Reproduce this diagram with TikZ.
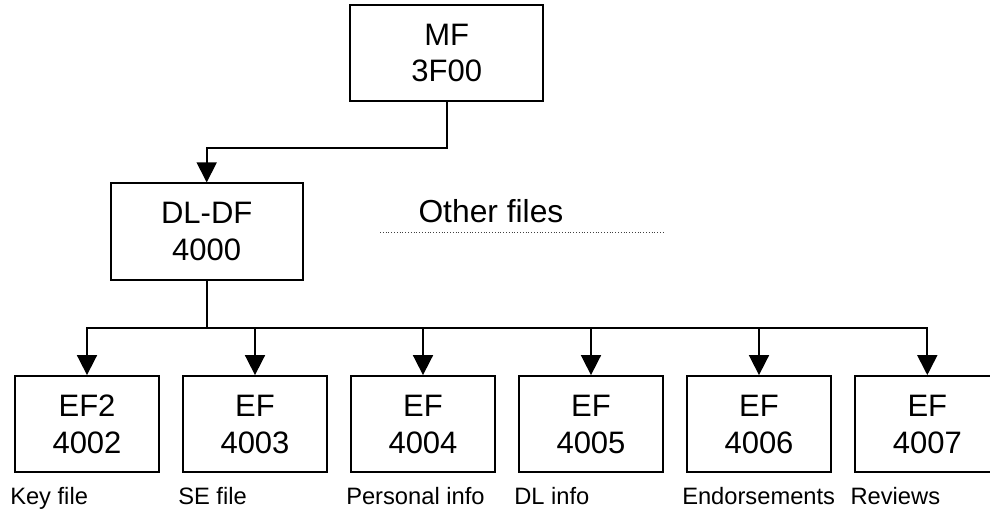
\documentclass[tikz,border=0pt]{standalone}
\usepackage{fontspec}
\setmainfont{Liberation Sans}
\usetikzlibrary{arrows.meta}
\begin{document}
\begin{tikzpicture}[x=1pt,y=-1pt,
  filebox/.style={draw=black,line width=1.9pt,minimum width=193pt,minimum height=96pt,
    inner sep=0pt,align=center,font=\fontsize{31}{36.7}\selectfont},
  efbox/.style={filebox,minimum width=144.6pt,minimum height=96.3pt},
  caption/.style={anchor=base west,inner sep=0pt,font=\fontsize{23.7}{28}\selectfont},
  link/.style={line width=1.7pt,-{Triangle[width=20pt,length=20pt]}},
  plain/.style={line width=1.7pt}]
\clip (0,0) rectangle (990,512);
\useasboundingbox (0,0) rectangle (990,512);

% master file and dedicated file
\node[filebox,minimum width=193.3pt,minimum height=95.7pt] (mf) at (446.7,52.85) {MF\\3F00};
\node[filebox,minimum width=192pt,minimum height=96.7pt] (dldf) at (206.7,231.7) {DL-DF\\4000};

% elementary files
\node[efbox] (ef2)  at (87,424.2)  {EF2\\4002};
\node[efbox] (ef3)  at (255,424.2) {EF\\4003};
\node[efbox] (ef4)  at (423,424.2) {EF\\4004};
\node[efbox] (ef5)  at (591,424.2) {EF\\4005};
\node[efbox] (ef6)  at (759,424.2) {EF\\4006};
\node[efbox] (ef7)  at (927.3,424.2) {EF\\4007};

% captions under the elementary files
\node[caption] (c2) at ([xshift=-3.7pt]ef2.west |- 0,504) {Key file};
\node[caption] (c3) at ([xshift=-3.7pt]ef3.west |- 0,504) {SE file};
\node[caption] (c4) at ([xshift=-3.7pt]ef4.west |- 0,504) {Personal info};
\node[caption] (c5) at ([xshift=-3.7pt]ef5.west |- 0,504) {DL info};
\node[caption] (c6) at ([xshift=-3.7pt]ef6.west |- 0,504) {Endorsements};
\node[caption] (c7) at ([xshift=-3.7pt]ef7.west |- 0,504) {Reviews};

% other files placeholder
\node[anchor=base west,inner sep=0pt,font=\fontsize{31.8}{36}\selectfont] (other) at (418.3,222.7) {Other files};
\coordinate (dotA) at (380,232.3);
\coordinate (dotB) at (663.3,232.3);
\draw[line width=0.8pt,black!75,dotted] (dotA) -- (dotB);

% connectors
\coordinate (elbow) at (446.7,148.3);
\draw[link] (mf.south) -- (elbow) -| (dldf.north);

\coordinate (bus) at (206.7,328.3);
\draw[plain] (dldf.south) -- (bus);
\foreach \f in {ef2,ef3,ef4,ef5,ef6,ef7}
  \draw[link] (bus) -| (\f.north);
\end{tikzpicture}
\end{document}
